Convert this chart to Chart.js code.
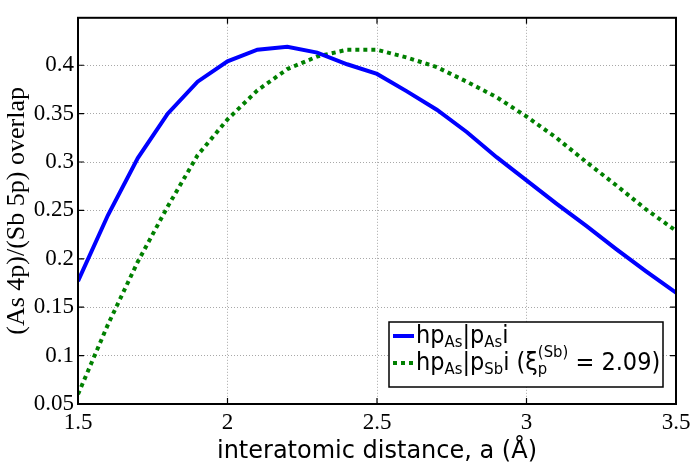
<!DOCTYPE html>
<html>
<head>
<meta charset="utf-8">
<script src="https://cdn.jsdelivr.net/npm/chart.js@4.4.1/dist/chart.umd.min.js"></script>
<style>
  html, body { margin: 0; padding: 0; background: #fff; }
  #wrap { width: 698px; height: 471px; }
</style>
</head>
<body>
<div id="wrap"><canvas id="myChart" width="698" height="471"></canvas></div>
<script>
// interatomic distance a (Angstrom)
const distances = [1.5, 1.6, 1.7, 1.8, 1.9, 2.0, 2.1, 2.2, 2.3, 2.4, 2.5,
                   2.6, 2.7, 2.8, 2.9, 3.0, 3.1, 3.2, 3.3, 3.4, 3.5];
// <p_As|p_As>
const overlapAsAs = [0.177, 0.245, 0.304, 0.350, 0.383, 0.404, 0.416, 0.419, 0.413, 0.401, 0.391,
                     0.373, 0.354, 0.331, 0.305, 0.281, 0.257, 0.234, 0.210, 0.187, 0.165];
// <p_As|p_Sb>, xi_p(Sb) = 2.09
const overlapAsSb = [0.060, 0.132, 0.197, 0.254, 0.307, 0.344, 0.374, 0.396, 0.409, 0.416, 0.416,
                     0.408, 0.398, 0.383, 0.367, 0.347, 0.325, 0.300, 0.276, 0.251, 0.229];
const xTicks = [1.5, 2, 2.5, 3, 3.5];
const xTickLabels = ['1.5', '2', '2.5', '3', '3.5'];
const yTicks = [0.05, 0.1, 0.15, 0.2, 0.25, 0.3, 0.35, 0.4];
const yTickLabels = ['0.05', '0.1', '0.15', '0.2', '0.25', '0.3', '0.35', '0.4'];

const BLUE = '#0000ff';
const GREEN = '#008000';
const SANS = "'DejaVu Sans', sans-serif";
const SANS_NARROW = "'DejaVu Sans Condensed', 'DejaVu Sans', sans-serif";
const SERIF = "'Liberation Serif', 'DejaVu Serif', serif";

// legend rows: pieces of text, with sub/sup parts
const legendRows = [
  { color: BLUE, dash: [], parts: [['hp'], ['As', 'sub'], ['|p'], ['As', 'sub'], ['i']] },
  { color: GREEN, dash: [4, 4], parts: [['hp'], ['As', 'sub'], ['|p'], ['Sb', 'sub'], ['i (ξ'],
      ['p', 'sub', '(Sb)'], [' = 2.09)']] }
];

// box round the plot, inward ticks, and the legend
const framePlugin = {
  id: 'frame',
  afterDraw(chart) {
    const ctx = chart.ctx;
    const a = chart.chartArea;
    const xs = chart.scales.x, ys = chart.scales.y;
    ctx.save();
    ctx.strokeStyle = '#000';
    ctx.lineWidth = 2;
    ctx.strokeRect(a.left, a.top, a.right - a.left, a.bottom - a.top);
    ctx.lineWidth = 1.2;
    ctx.beginPath();
    xTicks.forEach(v => {
      const px = xs.getPixelForValue(v);
      ctx.moveTo(px, a.bottom); ctx.lineTo(px, a.bottom - 6);
      ctx.moveTo(px, a.top); ctx.lineTo(px, a.top + 6);
    });
    yTicks.forEach(v => {
      const py = ys.getPixelForValue(v);
      ctx.moveTo(a.left, py); ctx.lineTo(a.left + 6, py);
      ctx.moveTo(a.right, py); ctx.lineTo(a.right - 6, py);
    });
    ctx.stroke();

    // legend
    const bw = 274, bh = 65;
    const bx = a.right - 13 - bw, by = a.bottom - 17 - bh;
    ctx.fillStyle = '#fff';
    ctx.fillRect(bx, by, bw, bh);
    ctx.lineWidth = 1.5;
    ctx.strokeStyle = '#000';
    ctx.strokeRect(bx, by, bw, bh);
    const big = 25, small = 16.5;
    legendRows.forEach((row, i) => {
      const base = by + 21 + i * 27;
      ctx.strokeStyle = row.color;
      ctx.lineWidth = 4;
      ctx.setLineDash(row.dash);
      ctx.beginPath();
      ctx.moveTo(bx + 4, base - 7);
      ctx.lineTo(bx + 25, base - 7);
      ctx.stroke();
      ctx.setLineDash([]);
      ctx.fillStyle = '#000';
      ctx.textBaseline = 'alphabetic';
      let x = bx + 27;
      row.parts.forEach(p => {
        if (p[1] === 'sub') {
          ctx.font = small + 'px ' + SANS_NARROW;
          ctx.fillText(p[0], x, base + 4);
          let w = ctx.measureText(p[0]).width;
          if (p[2]) {
            ctx.fillText(p[2], x, base - 13);
            w = Math.max(w, ctx.measureText(p[2]).width);
          }
          x += w;
        } else {
          ctx.font = big + 'px ' + SANS_NARROW;
          ctx.fillText(p[0], x, base);
          x += ctx.measureText(p[0]).width;
        }
      });
    });
    ctx.restore();
  }
};

const ctx = document.getElementById('myChart').getContext('2d');
const myChart = new Chart(ctx, {
  type: 'line',
  data: {
    datasets: [
      {
        label: 'As-As',
        data: distances.map((d, i) => ({ x: d, y: overlapAsAs[i] })),
        borderColor: BLUE,
        borderWidth: 4,
        pointRadius: 0,
        tension: 0,
        fill: false
      },
      {
        label: 'As-Sb',
        data: distances.map((d, i) => ({ x: d, y: overlapAsSb[i] })),
        borderColor: GREEN,
        borderWidth: 4,
        borderDash: [4, 4],
        borderCapStyle: 'butt',
        pointRadius: 0,
        tension: 0,
        fill: false
      }
    ]
  },
  options: {
    responsive: false,
    animation: false,
    devicePixelRatio: 1,
    layout: { padding: { top: 15, right: 22, left: 0, bottom: 0 } },
    plugins: {
      legend: { display: false },
      tooltip: { enabled: false }
    },
    scales: {
      x: {
        type: 'linear',
        min: 1.5,
        max: 3.5,
        afterBuildTicks: s => { s.ticks = xTicks.map(v => ({ value: v })); },
        afterFit: s => { s.height = 67; },
        ticks: {
          padding: 5,
          color: '#000',
          font: { family: SERIF, size: 23 },
          maxRotation: 0,
          callback: v => xTickLabels[xTicks.indexOf(v)]
        },
        grid: { color: '#a8a8a8', lineWidth: 1, drawTicks: false },
        border: { display: false, dash: [1, 2] },
        title: {
          display: true,
          text: 'interatomic distance, a (Å)',
          color: '#000',
          font: { family: SANS, size: 24 },
          padding: { top: 0, bottom: 5 }
        }
      },
      y: {
        min: 0.05,
        max: 0.449,
        afterBuildTicks: s => { s.ticks = yTicks.map(v => ({ value: v })); },
        afterFit: s => { s.width = 78; },
        ticks: {
          padding: 4,
          color: '#000',
          font: { family: SERIF, size: 23 },
          callback: v => yTickLabels[yTicks.indexOf(v)]
        },
        grid: { color: '#a8a8a8', lineWidth: 1, drawTicks: false },
        border: { display: false, dash: [1, 2] },
        title: {
          display: true,
          text: '(As 4p)/(Sb 5p) overlap',
          color: '#000',
          font: { family: SERIF, size: 26 },
          padding: { top: 2, bottom: 0 }
        }
      }
    }
  },
  plugins: [framePlugin]
});
</script>
</body>
</html>
